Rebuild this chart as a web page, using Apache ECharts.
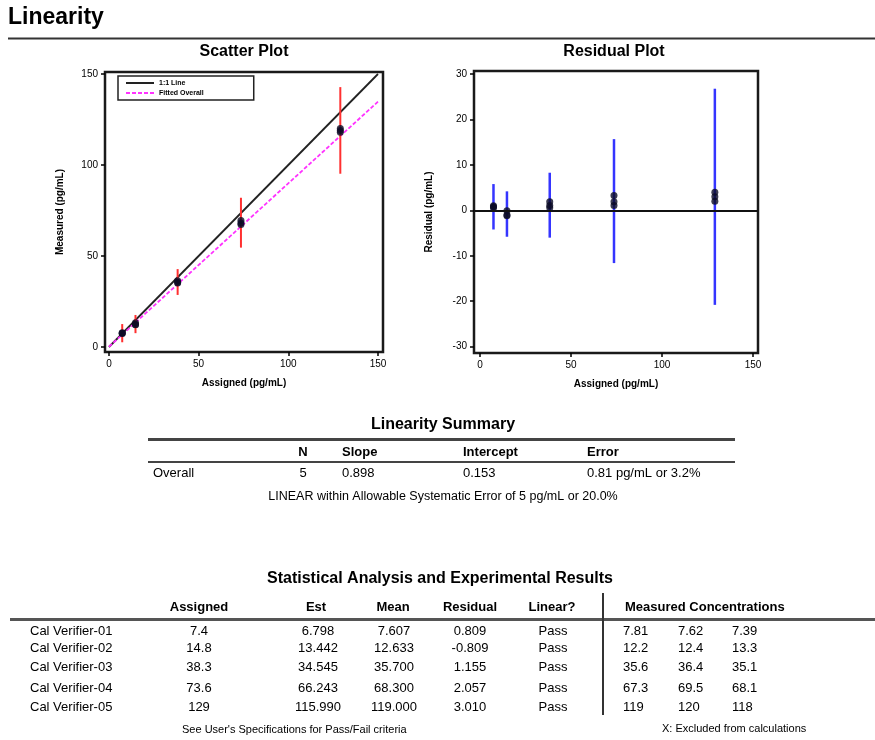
<!DOCTYPE html>
<html>
<head>
<meta charset="utf-8">
<script src="https://cdn.jsdelivr.net/npm/echarts@6/dist/echarts.min.js"></script>
<style>
html,body{margin:0;padding:0;background:#fff;}
#chart{width:875px;height:740px;}
</style>
</head>
<body>
<div id="chart"></div>
<script>
// ---------- data ----------
const sampleNames = ['Cal Verifier-01','Cal Verifier-02','Cal Verifier-03','Cal Verifier-04','Cal Verifier-05'];
const assigned = [7.4, 14.8, 38.3, 73.6, 129];
const measuredRep1 = [7.81, 12.2, 35.6, 67.3, 119];
const measuredRep2 = [7.62, 12.4, 36.4, 69.5, 120];
const measuredRep3 = [7.39, 13.3, 35.1, 68.1, 118];
const estValues = [6.798, 13.442, 34.545, 66.243, 115.990];
const meanValues = [7.607, 12.633, 35.700, 68.300, 119.000];
const residualValues = [0.809, -0.809, 1.155, 2.057, 3.010];
const linearResult = ['Pass','Pass','Pass','Pass','Pass'];
// allowable error bars
const scatterBarLow = [2.6, 7.6, 28.6, 54.6, 95.2];
const scatterBarHigh = [12.6, 17.6, 42.8, 82.0, 142.8];
const residBarLow = [-4.2, -5.8, -6.0, -11.6, -20.8];
const residBarHigh = [5.8, 4.2, 8.3, 15.7, 26.8];
// individual residuals
const residRep1 = [1.0, -1.2, 1.1, 1.1, 3.0];
const residRep2 = [0.8, -1.0, 1.9, 3.3, 4.0];
const residRep3 = [0.6, -0.1, 0.6, 1.9, 2.0];
// reference lines
const identityLineX = [0, 150];
const identityLineY = [0, 150];
const fitLineX = [0, 150];
const fitLineY = [0.15, 134.8];
// summary
const summaryHeaders = ['N','Slope','Intercept','Error'];
const summaryRow = ['Overall','5','0.898','0.153','0.81 pg/mL or 3.2%'];
// ticks
const scatterTicks = [0, 50, 100, 150];
const residXTicks = [0, 50, 100, 150];
const residYTicks = [-30, -20, -10, 0, 10, 20, 30];

// ---------- helpers ----------
const FONT = '"Liberation Sans", Arial, Helvetica, sans-serif';
const reps = [measuredRep1, measuredRep2, measuredRep3];
const rreps = [residRep1, residRep2, residRep3];
const scatterPts = [], residPts = [], scatterBars = [], residBars = [];
assigned.forEach((a, i) => {
  reps.forEach(r => scatterPts.push([a, r[i]]));
  rreps.forEach(r => residPts.push([a, r[i]]));
  scatterBars.push([a, scatterBarLow[i], scatterBarHigh[i]]);
  residBars.push([a, residBarLow[i], residBarHigh[i]]);
});
function barRenderer(color, width) {
  return function (params, api) {
    const p1 = api.coord([api.value(0), api.value(1)]);
    const p2 = api.coord([api.value(0), api.value(2)]);
    return {type: 'line', shape: {x1: p1[0], y1: p1[1], x2: p2[0], y2: p2[1]},
      style: {stroke: color, lineWidth: width}};
  };
}
function txt(text, x, y, size, opts) {
  opts = opts || {};
  return {type: 'text', silent: true, style: {
    text: text, x: x, y: y,
    font: (opts.bold ? 'bold ' : '') + size + 'px ' + FONT,
    fill: '#000', align: opts.align || 'left', verticalAlign: 'middle'}};
}
function hline(x1, x2, y, w, c) {
  return {type: 'line', silent: true, shape: {x1: x1, y1: y, x2: x2, y2: y}, style: {stroke: c || '#333', lineWidth: w}};
}
function vline(x, y1, y2, w, c) {
  return {type: 'line', silent: true, shape: {x1: x, y1: y1, x2: x, y2: y2}, style: {stroke: c || '#333', lineWidth: w}};
}

// ---------- graphic (titles & tables) ----------
const g = [];
g.push(txt('Linearity', 8, 18, 23, {bold: true}));
g.push(hline(8, 875, 38.5, 2, '#333'));
g.push(txt('Scatter Plot', 244, 52, 16, {bold: true, align: 'center'}));
g.push(txt('Residual Plot', 614, 52, 16, {bold: true, align: 'center'}));

// Linearity summary
g.push(txt('Linearity Summary', 443, 425, 16, {bold: true, align: 'center'}));
g.push(hline(148, 735, 439.5, 3, '#444'));
const sumX = [303, 342, 463, 587];
const sumAlign = ['center', 'left', 'left', 'left'];
summaryHeaders.forEach((h, i) => g.push(txt(h, sumX[i], 452, 13, {bold: true, align: sumAlign[i]})));
g.push(hline(148, 735, 462, 2, '#444'));
g.push(txt(summaryRow[0], 153, 473, 13));
summaryRow.slice(1).forEach((v, i) => g.push(txt(v, sumX[i], 473, 13, {align: sumAlign[i]})));
g.push(txt('LINEAR within Allowable Systematic Error of 5 pg/mL or 20.0%', 443, 497, 12.5, {align: 'center'}));

// Statistical analysis table
g.push(txt('Statistical Analysis and Experimental Results', 440, 579, 16, {bold: true, align: 'center'}));
const hdrY = 607;
g.push(txt('Assigned', 199, hdrY, 13, {bold: true, align: 'center'}));
g.push(txt('Est', 316, hdrY, 13, {bold: true, align: 'center'}));
g.push(txt('Mean', 393, hdrY, 13, {bold: true, align: 'center'}));
g.push(txt('Residual', 470, hdrY, 13, {bold: true, align: 'center'}));
g.push(txt('Linear?', 552, hdrY, 13, {bold: true, align: 'center'}));
g.push(txt('Measured Concentrations', 625, hdrY, 13, {bold: true}));
g.push(hline(10, 875, 619.5, 3, '#555'));
g.push(vline(603, 593, 715, 2, '#333'));
const rowY = [631, 648, 667, 688, 707];
sampleNames.forEach((n, i) => {
  const y = rowY[i];
  g.push(txt(n, 30, y, 13));
  g.push(txt(String(assigned[i]), 199, y, 13, {align: 'center'}));
  g.push(txt(estValues[i].toFixed(3), 318, y, 13, {align: 'center'}));
  g.push(txt(meanValues[i].toFixed(3), 394, y, 13, {align: 'center'}));
  g.push(txt(residualValues[i].toFixed(3), 470, y, 13, {align: 'center'}));
  g.push(txt(linearResult[i], 553, y, 13, {align: 'center'}));
  g.push(txt(String(measuredRep1[i]), 623, y, 13));
  g.push(txt(String(measuredRep2[i]), 678, y, 13));
  g.push(txt(String(measuredRep3[i]), 732, y, 13));
});
g.push(txt("See User's Specifications for Pass/Fail criteria", 182, 730, 11));
g.push(txt('X: Excluded from calculations', 662, 729, 11));

// ---------- axes ----------
function mkX(gridIndex, min, max, ticks) {
  return {type: 'value', gridIndex: gridIndex, min: min, max: max,
    name: 'Assigned (pg/mL)', nameLocation: 'middle', nameGap: 26,
    nameTextStyle: {fontFamily: FONT, fontSize: 10, fontWeight: 'bold', color: '#000'},
    axisLine: {show: false, onZero: false}, splitLine: {show: false},
    axisTick: {show: true, inside: false, length: 4, customValues: ticks, lineStyle: {color: '#000', width: 1.5}},
    axisLabel: {customValues: ticks, fontFamily: FONT, fontSize: 10, color: '#000', margin: 7}};
}
function mkY(gridIndex, min, max, ticks, name) {
  return {type: 'value', gridIndex: gridIndex, min: min, max: max,
    name: name, nameLocation: 'middle', nameGap: 40, nameRotate: 90,
    nameTextStyle: {fontFamily: FONT, fontSize: 10, fontWeight: 'bold', color: '#000'},
    axisLine: {show: false, onZero: false}, splitLine: {show: false},
    axisTick: {show: true, inside: false, length: 4, customValues: ticks, lineStyle: {color: '#000', width: 1.5}},
    axisLabel: {customValues: ticks, fontFamily: FONT, fontSize: 10, color: '#000', margin: 7}};
}

const option = {
  backgroundColor: '#fff',
  animation: false,
  graphic: g,
  grid: [
    {left: 105, top: 72, width: 278, height: 280, show: true, borderColor: '#1a1a1a', borderWidth: 2.5, backgroundColor: 'transparent'},
    {left: 474, top: 71, width: 284, height: 282, show: true, borderColor: '#1a1a1a', borderWidth: 2.5, backgroundColor: 'transparent'}
  ],
  xAxis: [mkX(0, -2.2, 152.8, scatterTicks), mkX(1, -3.3, 152.7, residXTicks)],
  yAxis: [mkY(0, -2.75, 151.1, scatterTicks, 'Measured (pg/mL)'), mkY(1, -31.4, 30.7, residYTicks, 'Residual (pg/mL)')],
  legend: {
    left: 118, top: 76, orient: 'vertical', data: ['1:1 Line', 'Fitted Overall'],
    borderColor: '#222', borderWidth: 1.5, padding: [3, 50, 3, 7],
    itemWidth: 28, itemHeight: 10, itemGap: 2,
    itemStyle: {opacity: 0},
    textStyle: {fontFamily: FONT, fontSize: 7, color: '#000', fontWeight: 'bold'}
  },
  series: [
    {name: '1:1 Line', type: 'line', xAxisIndex: 0, yAxisIndex: 0, symbol: 'none',
      data: identityLineX.map((x, i) => [x, identityLineY[i]]),
      lineStyle: {color: '#222', width: 1.8}, itemStyle: {color: '#222'}, z: 2},
    {name: 'Fitted Overall', type: 'line', xAxisIndex: 0, yAxisIndex: 0, symbol: 'none',
      data: fitLineX.map((x, i) => [x, fitLineY[i]]),
      lineStyle: {color: '#ff33ff', width: 1.8, type: [4, 2]}, itemStyle: {color: '#ff33ff'}, z: 2},
    {name: 'scatterBars', type: 'custom', xAxisIndex: 0, yAxisIndex: 0,
      renderItem: barRenderer('#ff3030', 2), encode: {x: 0, y: [1, 2]}, data: scatterBars, z: 3},
    {name: 'scatterPts', type: 'scatter', xAxisIndex: 0, yAxisIndex: 0, symbol: 'circle', symbolSize: 7,
      itemStyle: {color: '#0b0b25'}, data: scatterPts, z: 4},
    {name: 'residBars', type: 'custom', xAxisIndex: 1, yAxisIndex: 1,
      renderItem: barRenderer('#3535ff', 2.5), encode: {x: 0, y: [1, 2]}, data: residBars, z: 3},
    {name: 'residPts', type: 'scatter', xAxisIndex: 1, yAxisIndex: 1, symbol: 'circle', symbolSize: 7,
      itemStyle: {color: '#0b0b25'}, data: residPts, z: 4,
      markLine: {silent: true, symbol: 'none', label: {show: false},
        lineStyle: {color: '#111', width: 2, type: 'solid'}, data: [{yAxis: 0}]}}
  ]
};
const chart = echarts.init(document.getElementById('chart'), null, {renderer: 'canvas'});
chart.setOption(option);
</script>
</body>
</html>
